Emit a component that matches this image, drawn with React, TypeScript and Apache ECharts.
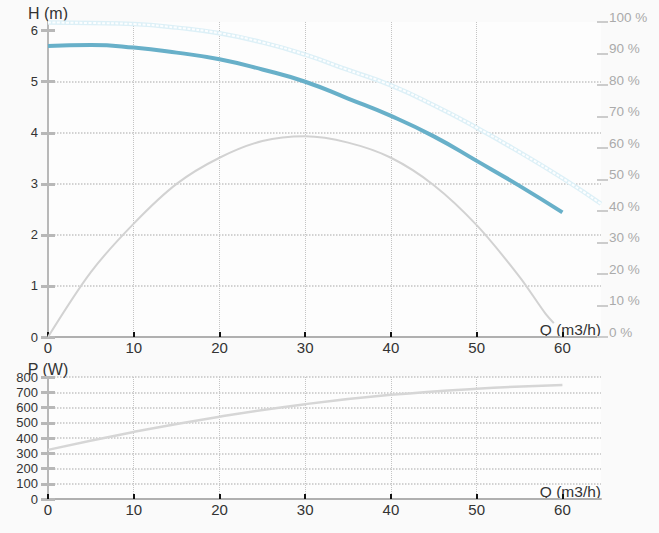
import React, { useEffect, useRef } from "react";
import * as echarts from "echarts";

// Flow (m3/h)
const flowHead = [0, 5, 10, 15, 20, 25, 30, 35, 40, 45, 50, 55, 60];
const headValues = [5.7, 5.72, 5.67, 5.57, 5.44, 5.24, 5.0, 4.67, 4.33, 3.93, 3.45, 2.96, 2.44];

const flowMaxHead = [0, 5, 10, 15, 20, 25, 30, 35, 40, 45, 50, 55, 60, 64.5];
const maxHeadValues = [6.16, 6.15, 6.13, 6.06, 5.95, 5.77, 5.53, 5.23, 4.93, 4.54, 4.1, 3.62, 3.11, 2.61];

const flowEff = [0, 5, 10, 15, 20, 25, 30, 35, 40, 45, 50, 55, 58, 59];
const effValues = [0, 20.6, 36, 48.6, 56.9, 62.2, 63.7, 61.7, 56.9, 48.2, 35.5, 19.1, 7.5, 4.4];

const flowPower = [0, 10, 20, 30, 40, 50, 60];
const powerValues = [322, 440, 540, 622, 683, 723, 748];

const qTicks = [0, 10, 20, 30, 40, 50, 60];
const hTicks = [0, 1, 2, 3, 4, 5, 6];

const FONT = 'Arial, "Liberation Sans", sans-serif';

const pairs = (xs: number[], ys: number[]) => xs.map((x, i) => [x, ys[i]]);

export default function App() {
  const ref = useRef<HTMLDivElement>(null);
  useEffect(() => {
    if (!ref.current) return;
    const chart = echarts.init(ref.current, undefined, { renderer: "svg" });
    const xAxisBase = (gridIndex: number) => ({
      type: "value",
      gridIndex,
      min: 0,
      max: 64.5,
      interval: 10,
      name: "Q (m3/h)",
      nameLocation: "end",
      nameGap: 0,
      nameMoveOverlap: false,
      nameTextStyle: { align: "right", verticalAlign: "bottom", fontSize: 15.5, color: "#333", fontFamily: FONT },
      axisLine: { show: true, onZero: false, lineStyle: { color: "#b0b0b0", width: 2 } },
      axisTick: { show: true, inside: true, length: 5, customValues: qTicks, lineStyle: { color: "#111", width: 2 } },
      axisLabel: { show: true, customValues: qTicks, margin: 3, fontSize: 15, color: "#333", fontFamily: FONT },
      splitLine: { show: true, showMinLine: false, showMaxLine: false, lineStyle: { type: "dotted", color: "#c4c4c4", width: 1 } },
    });
    const leftTick = { color: "#b8b8b8", width: 3 };
    const option: any = {
      animation: false,
      backgroundColor: "#fafafa",
      textStyle: { fontFamily: FONT },
      grid: [
        { left: 48, right: 58, top: 22, bottom: 196, show: true, backgroundColor: "#fdfdfd", borderWidth: 0 },
        { left: 48, right: 58, top: 377, bottom: 34, show: true, backgroundColor: "#fdfdfd", borderWidth: 0 },
      ],
      xAxis: [xAxisBase(0), xAxisBase(1)],
      yAxis: [
        {
          type: "value",
          gridIndex: 0,
          position: "left",
          min: 0,
          max: 6.17,
          interval: 1,
          name: "H (m)",
          nameLocation: "end",
          nameGap: 1,
          nameMoveOverlap: false,
          nameTextStyle: { fontSize: 16, color: "#333", verticalAlign: "bottom", fontFamily: FONT },
          axisLine: { show: true, lineStyle: { color: "#b8b8b8", width: 2 } },
          axisTick: { show: true, length: 7, customValues: hTicks, lineStyle: leftTick },
          axisLabel: { customValues: hTicks, margin: 10, fontSize: 13, color: "#333", fontFamily: FONT },
          splitLine: { show: true, showMaxLine: false, showMinLine: false, lineStyle: { type: "dotted", color: "#c4c4c4", width: 1.5 } },
        },
        {
          type: "value",
          gridIndex: 0,
          position: "right",
          min: 0,
          max: 100,
          interval: 10,
          axisLine: { show: false },
          axisTick: { show: true, length: 7, lineStyle: { color: "#cccccc", width: 2 } },
          axisLabel: {
            formatter: "{value} %",
            margin: 8,
            fontSize: 13.5,
            color: "#aaaaaa",
            verticalAlign: "bottom",
            lineHeight: 10,
            fontFamily: FONT,
          },
          splitLine: { show: false },
        },
        {
          type: "value",
          gridIndex: 0,
          position: "left",
          min: 0,
          max: 6.17,
          interval: 1,
          axisLine: { show: false },
          axisTick: { show: true, inside: true, length: 7, customValues: hTicks, lineStyle: leftTick },
          axisLabel: { show: false },
          splitLine: { show: false },
        },
        {
          type: "value",
          gridIndex: 0,
          position: "right",
          min: 0,
          max: 100,
          interval: 10,
          axisLine: { show: false },
          axisTick: { show: true, inside: true, length: 4, lineStyle: { color: "#cccccc", width: 2 } },
          axisLabel: { show: false },
          splitLine: { show: false },
        },
        {
          type: "value",
          gridIndex: 1,
          position: "left",
          min: 0,
          max: 800,
          interval: 100,
          name: "P (W)",
          nameLocation: "end",
          nameGap: 0,
          nameMoveOverlap: false,
          nameTextStyle: { fontSize: 16, color: "#333", verticalAlign: "bottom", fontFamily: FONT },
          axisLine: { show: true, lineStyle: { color: "#b8b8b8", width: 2 } },
          axisTick: { show: true, length: 7, lineStyle: leftTick },
          axisLabel: { margin: 10, fontSize: 13, color: "#333", fontFamily: FONT },
          splitLine: { show: true, showMinLine: false, lineStyle: { type: "dotted", color: "#c4c4c4", width: 1.5 } },
        },
        {
          type: "value",
          gridIndex: 1,
          position: "left",
          min: 0,
          max: 800,
          interval: 100,
          axisLine: { show: false },
          axisTick: { show: true, inside: true, length: 7, lineStyle: leftTick },
          axisLabel: { show: false },
          splitLine: { show: false },
        },
      ],
      series: [
        {
          type: "line",
          xAxisIndex: 0,
          yAxisIndex: 0,
          data: pairs(flowMaxHead, maxHeadValues),
          smooth: true,
          showSymbol: false,
          silent: true,
          z: 1,
          lineStyle: { color: "#ddf0f7", width: 4.5 },
        },
        {
          type: "line",
          xAxisIndex: 0,
          yAxisIndex: 0,
          data: pairs(flowMaxHead, maxHeadValues),
          smooth: true,
          showSymbol: false,
          silent: true,
          z: 2,
          lineStyle: { color: "#fcfeff", width: 2, type: [3, 1.5] },
        },
        {
          type: "line",
          xAxisIndex: 0,
          yAxisIndex: 1,
          data: pairs(flowEff, effValues),
          smooth: 0.3,
          showSymbol: false,
          silent: true,
          z: 2,
          lineStyle: { color: "#d2d2d2", width: 2 },
        },
        {
          type: "line",
          xAxisIndex: 0,
          yAxisIndex: 0,
          data: pairs(flowHead, headValues),
          smooth: true,
          showSymbol: false,
          silent: true,
          z: 3,
          lineStyle: { color: "#68b0c9", width: 4 },
        },
        {
          type: "line",
          xAxisIndex: 1,
          yAxisIndex: 4,
          data: pairs(flowPower, powerValues),
          smooth: true,
          showSymbol: false,
          silent: true,
          z: 2,
          lineStyle: { color: "#d6d6d6", width: 2.5 },
        },
      ],
    };
    chart.setOption(option);
    return () => chart.dispose();
  }, []);
  return (
    <div
      ref={ref}
      style={{ position: "absolute", left: 0, top: 0, width: 659, height: 533 }}
    />
  );
}
